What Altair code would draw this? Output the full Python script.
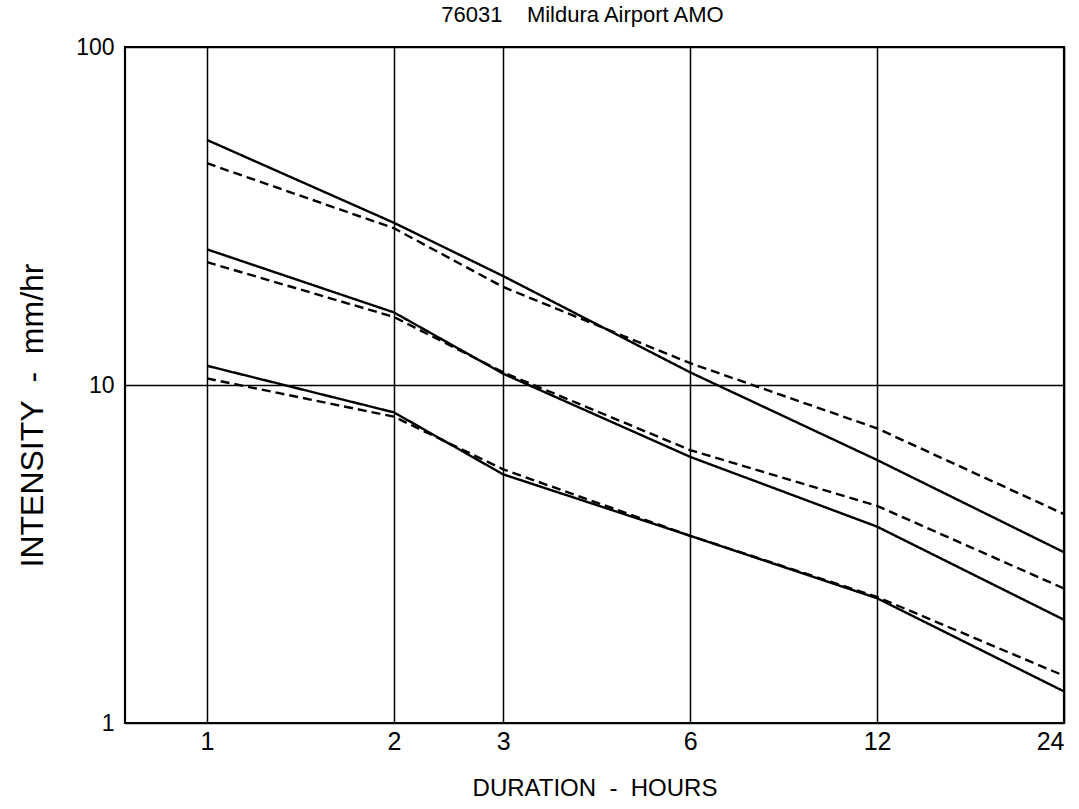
import altair as alt
import pandas as pd

durations = [1, 2, 3, 6, 12, 24]
solid_high = [53.1, 30.2, 21.0, 10.9, 6.0, 3.2]
dashed_high = [45.3, 29.1, 19.5, 11.6, 7.44, 4.15]
solid_mid = [25.2, 16.4, 10.8, 6.13, 3.81, 2.02]
dashed_mid = [23.1, 15.9, 10.9, 6.42, 4.39, 2.50]
solid_low = [11.4, 8.3, 5.44, 3.58, 2.34, 1.24]
dashed_low = [10.46, 8.06, 5.63, 3.58, 2.36, 1.38]

y_ticks = [1, 10, 100]

series = [
    ("solid_high", "solid", solid_high),
    ("dashed_high", "dashed", dashed_high),
    ("solid_mid", "solid", solid_mid),
    ("dashed_mid", "dashed", dashed_mid),
    ("solid_low", "solid", solid_low),
    ("dashed_low", "dashed", dashed_low),
]
rows = []
for name, style, vals in series:
    for d, v in zip(durations, vals):
        rows.append({"series": name, "style": style, "duration": d, "intensity": v})
df = pd.DataFrame(rows)

FONT = "Liberation Sans"

chart = (
    alt.Chart(df)
    .mark_line(color="black", strokeWidth=2.4, clip=True)
    .encode(
        x=alt.X(
            "duration:Q",
            scale=alt.Scale(type="log", domain=[0.738, 24], nice=False),
            axis=alt.Axis(
                values=durations,
                grid=True,
                gridColor="black",
                gridWidth=1.5,
                gridOpacity=1,
                ticks=False,
                domain=False,
                format="d",
                labelFont=FONT,
                labelFontSize=25,
                labelColor="black",
                labelPadding=6,
                labelBaseline="top",
                title="DURATION\u00a0\u00a0-\u00a0\u00a0HOURS",
                titleFont=FONT,
                titleFontSize=24,
                titleFontWeight="normal",
                titleColor="black",
                titlePadding=22,
            ),
        ),
        y=alt.Y(
            "intensity:Q",
            scale=alt.Scale(type="log", domain=[1, 100], nice=False),
            axis=alt.Axis(
                values=y_ticks,
                grid=True,
                gridColor="black",
                gridWidth=1.5,
                gridOpacity=1,
                ticks=False,
                domain=False,
                format="d",
                labelFont=FONT,
                labelFontSize=23,
                labelColor="black",
                labelPadding=11,
                title="INTENSITY\u00a0\u00a0-\u00a0\u00a0mm/hr",
                titleFont=FONT,
                titleFontSize=32,
                titleFontWeight="normal",
                titleColor="black",
                titleX=-93,
                titleY=368,
                titleBaseline="middle",
                titleAngle=270,
            ),
        ),
        detail="series:N",
        strokeDash=alt.StrokeDash(
            "style:N",
            scale=alt.Scale(domain=["solid", "dashed"], range=[[1, 0], [9, 5]]),
            legend=None,
        ),
    )
    .properties(
        width=939,
        height=676,
        title=alt.TitleParams(
            "76031\u00a0\u00a0\u00a0\u00a0Mildura Airport AMO",
            font=FONT,
            fontSize=22,
            fontWeight="normal",
            color="black",
            anchor="middle",
            offset=9,
            dx=-12,
        ),
        autosize=alt.AutoSizeParams(type="none"),
        padding={"left": 125, "top": 47, "right": 15, "bottom": 86},
        background="white",
    )
    .configure_view(stroke="black", strokeWidth=2.2)
)

chart.save("out.html", embed_options={"renderer": "svg", "actions": False})
